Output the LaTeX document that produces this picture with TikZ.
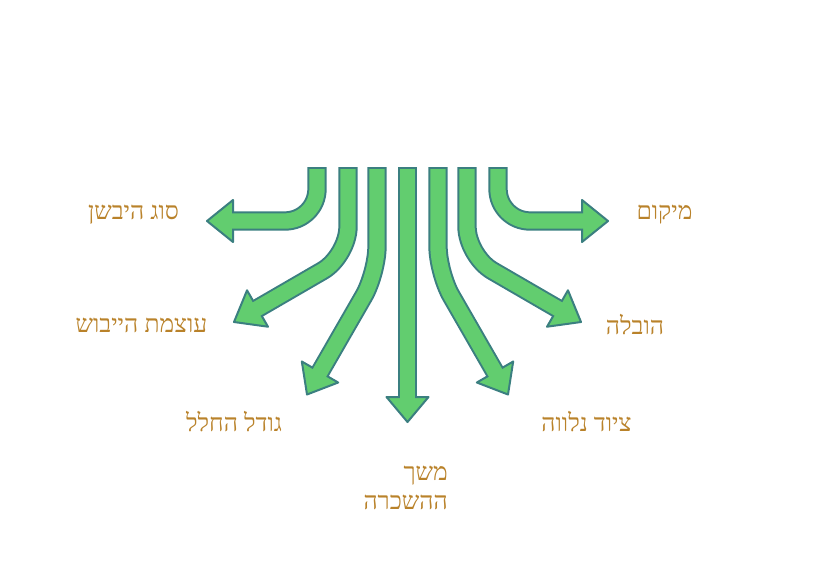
\documentclass[tikz,border=0pt]{standalone}
\usepackage{fontspec}
\newfontfamily\hebfont[Script=Hebrew]{Liberation Serif}
\TeXXeTstate=1
\usetikzlibrary{calc}
\definecolor{arrowgreen}{HTML}{62CD6F}
\definecolor{arrowteal}{HTML}{3B7F80}
\definecolor{labelgold}{HTML}{B9822A}
\tikzset{
  shaftedge/.style={draw=arrowteal, line width=14.5pt, line cap=butt},
  shaftfill/.style={draw=arrowgreen, line width=11.5pt, line cap=butt},
  headbox/.style={fill=arrowgreen, draw=arrowteal, line width=1.5pt, line join=round},
  factor/.style={text=labelgold, font=\hebfont\fontsize{18.5}{22}\selectfont, inner sep=0pt}
}

\begin{document}
\begin{tikzpicture}[x=0.75pt, y=-0.75pt]
    \useasboundingbox (0,0) rectangle (816,579);
    % start, bend, head base and tip of every arrow
    \coordinate (s1) at (317,167);   \coordinate (c1) at (317,221);
    \coordinate (b1) at (233,221);   \coordinate (t1) at (207,221);
    \coordinate (s2) at (348,167);   \coordinate (c2) at (348,256);
    \coordinate (b2) at (257.5,308.5); \coordinate (t2) at (234,322);
    \coordinate (s3) at (377,167);   \coordinate (c3) at (377,273);
    \coordinate (b3) at (320,372);   \coordinate (t3) at (307,394.5);
    \coordinate (s4) at (407.5,167); \coordinate (c4) at (407.5,300);
    \coordinate (b4) at (407.5,397); \coordinate (t4) at (407.5,422);
    \coordinate (s5) at (438,167);   \coordinate (c5) at (438,273);
    \coordinate (b5) at (495,372);   \coordinate (t5) at (508,394.5);
    \coordinate (s6) at (467,167);   \coordinate (c6) at (467,256);
    \coordinate (b6) at (557.5,308.5); \coordinate (t6) at (581,322);
    \coordinate (s7) at (498,167);   \coordinate (c7) at (498,221);
    \coordinate (b7) at (582,221);   \coordinate (t7) at (608,221);

    \foreach \i/\r in {1/24pt,2/22pt,3/20pt,4/1pt,5/20pt,6/22pt,7/24pt} {
      \draw[shaftedge, rounded corners=\r] (s\i) -- (c\i) -- (b\i);
      \filldraw[headbox] ($(b\i)!15.75pt!90:(t\i)$) -- (t\i)
        -- ($(b\i)!15.75pt!-90:(t\i)$) -- cycle;
      \draw[shaftfill, rounded corners=\r] ($(s\i)!1.5pt!(c\i)$) -- (c\i)
        -- ($(b\i)!2.5pt!(t\i)$);
    }

    \node[factor] (type) at (133.5,215) {\beginR סוג היבשן\endR};
    \node[factor] (place) at (664.5,215) {\beginR מיקום\endR};
    \node[factor] (power) at (141.5,325) {\beginR עוצמת הייבוש\endR};
    \node[factor] (haul) at (635,325) {\beginR הובלה\endR};
    \node[factor] (room) at (234,422) {\beginR גודל החלל\endR};
    \node[factor] (gear) at (586.5,422) {\beginR ציוד נלווה\endR};
    \node[factor, align=right, anchor=east] (term) at (448,488)
      {\beginR משך\endR\\\beginR ההשכרה\endR};
  \end{tikzpicture}
\end{document}
